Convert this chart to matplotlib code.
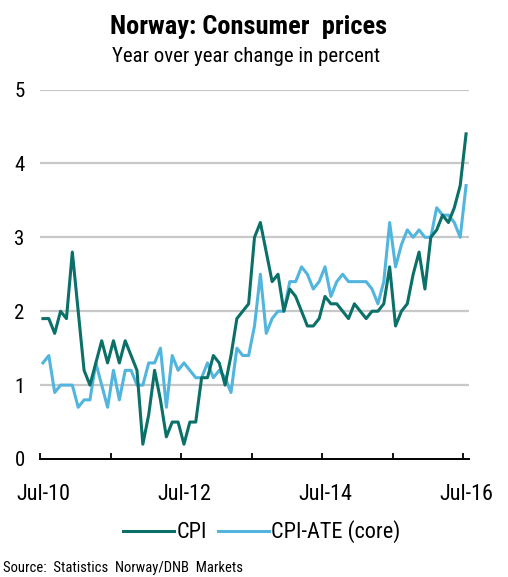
import matplotlib
matplotlib.use("Agg")
import matplotlib.pyplot as plt
from matplotlib import font_manager
import numpy as np

# ---- data ----
months_labels = ["Jul-10", "Jul-12", "Jul-14", "Jul-16"]
cpi = [1.9, 1.9, 1.7, 2.0, 1.9, 2.8,
       2.0, 1.2, 1.0, 1.3, 1.6, 1.3, 1.6, 1.3, 1.6, 1.4, 1.2, 0.2,
       0.6, 1.2, 0.8, 0.3, 0.5, 0.5, 0.2, 0.5, 0.5, 1.1, 1.1, 1.4,
       1.3, 1.0, 1.4, 1.9, 2.0, 2.1, 3.0, 3.2, 2.8, 2.4, 2.5, 2.0,
       2.3, 2.2, 2.0, 1.8, 1.8, 1.9, 2.2, 2.1, 2.1, 2.0, 1.9, 2.1,
       2.0, 1.9, 2.0, 2.0, 2.1, 2.6, 1.8, 2.0, 2.1, 2.5, 2.8, 2.3,
       3.0, 3.1, 3.3, 3.2, 3.4, 3.7, 4.4]
cpi_ate = [1.3, 1.4, 0.9, 1.0, 1.0, 1.0,
           0.7, 0.8, 0.8, 1.3, 1.0, 0.7, 1.2, 0.8, 1.2, 1.2, 1.0, 1.0,
           1.3, 1.3, 1.5, 0.7, 1.4, 1.2, 1.3, 1.2, 1.1, 1.1, 1.3, 1.1,
           1.2, 1.1, 0.9, 1.5, 1.4, 1.4, 1.8, 2.5, 1.7, 1.9, 2.0, 2.0,
           2.4, 2.4, 2.6, 2.5, 2.3, 2.4, 2.6, 2.2, 2.4, 2.5, 2.4, 2.4,
           2.4, 2.4, 2.3, 2.1, 2.4, 3.2, 2.6, 2.9, 3.1, 3.0, 3.1, 3.0,
           3.0, 3.4, 3.3, 3.3, 3.2, 3.0, 3.7]
yticks = [0, 1, 2, 3, 4, 5]

# ---- fonts ----
names = {f.name for f in font_manager.fontManager.ttflist}
cands = ["Liberation Sans Narrow", "Arial Narrow", "Roboto Condensed",
         "Liberation Sans", "DejaVu Sans"]
fam = [f for f in cands if f in names] or ["DejaVu Sans"]
plt.rcParams["font.family"] = fam
narrow = fam[0] in ("Liberation Sans Narrow", "Arial Narrow", "Roboto Condensed")
k = 1.0 if narrow else 0.86

c_cpi = "#0B7068"
c_ate = "#52B5DE"

fig = plt.figure(figsize=(5.08, 5.77), dpi=100)
ax = fig.add_axes([40/508, 1-459/577, 429/508, 369.5/577])

x = np.arange(len(cpi)) + 0.5
ax.plot(x, cpi, color=c_cpi, lw=2.2, label="CPI", zorder=3)
ax.plot(x, cpi_ate, color=c_ate, lw=2.2, label="CPI-ATE (core)", zorder=2)

ax.set_xlim(0, 73)
ax.set_ylim(0, 5)
ax.set_yticks(yticks)
ax.set_yticklabels([str(v) for v in yticks], fontsize=15 * k)
ax.tick_params(axis="y", length=0, pad=11)
for v in yticks[1:]:
    ax.axhline(v, color="#C8C8C8", lw=1.6, zorder=1)

ax.set_xticks(np.arange(0, 73, 12))
ax.set_xticklabels([])
ax.tick_params(axis="x", which="major", direction="in", length=4.5, width=1.3, color="black")
ax.set_xticks(np.arange(0, 73, 24) + 0.5, minor=True)
ax.set_xticklabels(months_labels, minor=True, fontsize=16 * k)
ax.tick_params(axis="x", which="minor", length=0, pad=18)

for s in ["top", "right", "left"]:
    ax.spines[s].set_visible(False)
ax.spines["bottom"].set_linewidth(1.4)

fig.text(0.490, 1-27/577, "Norway: Consumer  prices", ha="center", va="center",
         fontsize=19 * k, fontweight="bold")
fig.text(0.485, 1-57/577, "Year over year change in percent", ha="center", va="center",
         fontsize=15 * k)

fig.legend(loc="center", bbox_to_anchor=(0.515, 1-532/577), ncol=2, frameon=False,
           fontsize=16 * k, handlelength=2.3, handletextpad=0.1, columnspacing=0.5,
           borderpad=0, borderaxespad=0)

fig.text(3/508, 1-568/577, "Source:  Statistics  Norway/DNB  Markets", ha="left",
         va="center", fontsize=10.5 * k)

fig.savefig("out.png", dpi=100)
